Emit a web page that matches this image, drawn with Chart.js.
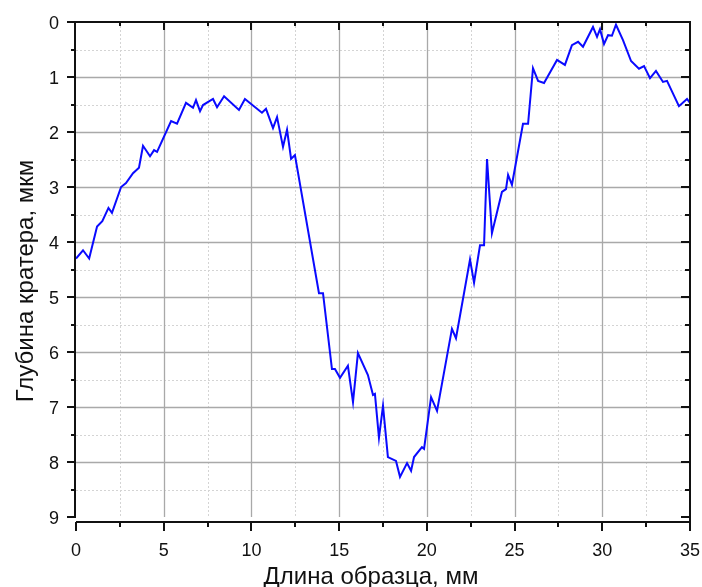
<!DOCTYPE html>
<html>
<head>
<meta charset="utf-8">
<script src="https://cdn.jsdelivr.net/npm/chart.js@4.4.1/dist/chart.umd.min.js"></script>
<style>
  html, body { margin: 0; padding: 0; background: #fff; }
  #crater { display: block; width: 702px; height: 587px; }
</style>
</head>
<body>
<canvas id="crater" width="702" height="587"></canvas>
<script>
// Crater profile: position along the sample (mm) and depth (µm)
const sampleLength = [0, 0.4, 0.75, 1.2, 1.5, 1.85, 2.05, 2.57, 2.85, 3.25, 3.59, 3.82, 4.22, 4.45, 4.62,
    5.42, 5.76, 6.27, 6.67, 6.84, 7.07, 7.24, 7.81, 8.04, 8.44, 9.29, 9.63, 10.6, 10.83, 11.23,
    11.46, 11.8, 12.03, 12.26, 12.48, 13.85, 14.08, 14.59, 14.76, 15.05, 15.5, 15.79, 16.07, 16.64,
    16.93, 17.04, 17.27, 17.5, 17.78, 18.24, 18.47, 18.87, 19.1, 19.27, 19.72, 19.84, 20.24, 20.58,
    21.43, 21.66, 22.46, 22.69, 23.03, 23.26, 23.43, 23.71, 24.28, 24.51, 24.63, 24.85, 25.48,
    25.77, 26.05, 26.34, 26.68, 27.42, 27.87, 28.27, 28.62, 28.9, 29.47, 29.7, 29.87, 30.1, 30.33,
    30.55, 30.78, 31.18, 31.64, 32.09, 32.38, 32.72, 33.06, 33.46, 33.69, 34.37, 34.83, 35.0];
const craterDepth = [4.3, 4.15, 4.3, 3.72, 3.62, 3.38, 3.47, 3.0, 2.93, 2.75, 2.65, 2.25, 2.44, 2.33, 2.36,
    1.8, 1.85, 1.47, 1.56, 1.42, 1.62, 1.51, 1.4, 1.55, 1.35, 1.6, 1.4, 1.65, 1.58, 1.93,
    1.73, 2.27, 1.96, 2.49, 2.42, 4.93, 4.93, 6.31, 6.31, 6.47, 6.25, 6.91, 6.02, 6.42,
    6.78, 6.76, 7.56, 6.98, 7.91, 7.98, 8.27, 8.02, 8.16, 7.91, 7.73, 7.76, 6.82, 7.07,
    5.58, 5.75, 4.32, 4.74, 4.06, 4.06, 2.49, 3.84, 3.09, 3.04, 2.78, 2.96, 1.85,
    1.85, 0.84, 1.07, 1.11, 0.69, 0.78, 0.42, 0.36, 0.45, 0.09, 0.27, 0.13, 0.4, 0.24,
    0.25, 0.05, 0.33, 0.71, 0.85, 0.8, 1.02, 0.89, 1.09, 1.07, 1.53, 1.4, 1.47];

// Axis ranges and tick spacing
const xRange = [0, 35];
const yRange = [0, 9];
const xMajorStep = 5;
const yMajorStep = 1;

const xTitle = 'Длина образца, мм';
const yTitle = 'Глубина кратера, мкм';

const fontFamily = '"Liberation Sans", Arial, sans-serif';

function stepsBetween(min, max, step) {
    const out = [];
    for (let v = min; v <= max + 1e-9; v += step) out.push(+v.toFixed(6));
    return out;
}

// Origin-style frame: major/minor grid, offset bottom axis, ticks on all sides
const framePlugin = {
    id: 'frame',
    beforeDatasetsDraw(chart) {
        const { ctx, chartArea: a, scales: { x, y } } = chart;
        ctx.save();
        ctx.lineWidth = 1;
        // minor grid, dotted
        ctx.strokeStyle = '#d4d4d4';
        ctx.setLineDash([2, 2]);
        stepsBetween(xRange[0] + xMajorStep / 2, xRange[1], xMajorStep).forEach(v => {
            const px = Math.round(x.getPixelForValue(v)) + 0.5;
            ctx.beginPath(); ctx.moveTo(px, a.top); ctx.lineTo(px, a.bottom); ctx.stroke();
        });
        stepsBetween(yRange[0] + yMajorStep / 2, yRange[1], yMajorStep).forEach(v => {
            const py = Math.round(y.getPixelForValue(v)) + 0.5;
            ctx.beginPath(); ctx.moveTo(a.left, py); ctx.lineTo(a.right, py); ctx.stroke();
        });
        // major grid, solid
        ctx.setLineDash([]);
        ctx.strokeStyle = '#a9a9a9';
        ctx.lineWidth = 1.3;
        stepsBetween(xRange[0] + xMajorStep, xRange[1] - xMajorStep, xMajorStep).forEach(v => {
            const px = Math.round(x.getPixelForValue(v)) + 0.5;
            ctx.beginPath(); ctx.moveTo(px, a.top); ctx.lineTo(px, a.bottom); ctx.stroke();
        });
        stepsBetween(yRange[0] + yMajorStep, yRange[1] - yMajorStep, yMajorStep).forEach(v => {
            const py = Math.round(y.getPixelForValue(v)) + 0.5;
            ctx.beginPath(); ctx.moveTo(a.left, py); ctx.lineTo(a.right, py); ctx.stroke();
        });
        ctx.restore();
    },
    afterDraw(chart) {
        const { ctx, chartArea: a, scales: { x, y } } = chart;
        const bottomAxis = a.bottom + 5;
        const leftAxis = a.left - 1;
        const major = 8, minor = 4;
        ctx.save();
        ctx.setLineDash([]);
        ctx.strokeStyle = '#111111';
        ctx.lineWidth = 2;
        const line = (x1, y1, x2, y2) => {
            ctx.beginPath(); ctx.moveTo(x1, y1); ctx.lineTo(x2, y2); ctx.stroke();
        };
        // axis lines
        line(leftAxis, a.top, leftAxis, a.bottom + 1);
        line(leftAxis - 1, a.top, a.right + 1, a.top);
        line(a.right, a.top - 1, a.right, bottomAxis);
        line(a.left, bottomAxis, a.right + 1, bottomAxis);
        // x ticks: bottom outward, top inward
        stepsBetween(xRange[0], xRange[1], xMajorStep / 2).forEach((v, i) => {
            const px = Math.round(x.getPixelForValue(v));
            const len = i % 2 === 0 ? major : minor;
            line(px, bottomAxis, px, bottomAxis + len + 1);
            if (v > xRange[0] && v < xRange[1]) line(px, a.top, px, a.top + len);
        });
        // y ticks: left outward, right inward
        stepsBetween(yRange[0], yRange[1], yMajorStep / 2).forEach((v, i) => {
            const py = Math.round(y.getPixelForValue(v));
            const len = i % 2 === 0 ? major : minor;
            line(leftAxis, py, leftAxis - len, py);
            if (v > yRange[0]) line(a.right, py, a.right - len - 1, py);
        });
        // tick labels
        ctx.fillStyle = '#111111';
        ctx.font = '18px ' + fontFamily;
        ctx.textAlign = 'center';
        ctx.textBaseline = 'alphabetic';
        stepsBetween(xRange[0], xRange[1], xMajorStep).forEach(v => {
            ctx.fillText(String(v), x.getPixelForValue(v), bottomAxis + 34);
        });
        ctx.textAlign = 'right';
        stepsBetween(yRange[0], yRange[1], yMajorStep).forEach(v => {
            ctx.fillText(String(v), leftAxis - 16, y.getPixelForValue(v) + 7);
        });
        // axis titles
        ctx.font = '24px ' + fontFamily;
        ctx.textAlign = 'center';
        ctx.fillText(xTitle, 371, 584);
        ctx.translate(33, 281);
        ctx.rotate(-Math.PI / 2);
        ctx.fillText(yTitle, 0, 0);
        ctx.restore();
    }
};

const points = sampleLength.map((v, i) => ({ x: v, y: craterDepth[i] }));

new Chart(document.getElementById('crater'), {
    type: 'line',
    data: {
        datasets: [{
            data: points,
            borderColor: '#0a0aff',
            borderWidth: 2,
            pointRadius: 0,
            tension: 0,
            fill: false
        }]
    },
    options: {
        responsive: false,
        animation: false,
        devicePixelRatio: 1,
        layout: { padding: { top: 22, right: 12, left: 76, bottom: 70 } },
        plugins: { legend: { display: false }, tooltip: { enabled: false } },
        scales: {
            x: { type: 'linear', display: false, min: xRange[0], max: xRange[1] },
            y: { type: 'linear', display: false, min: yRange[0], max: yRange[1], reverse: true }
        }
    },
    plugins: [framePlugin]
});
</script>
</body>
</html>
